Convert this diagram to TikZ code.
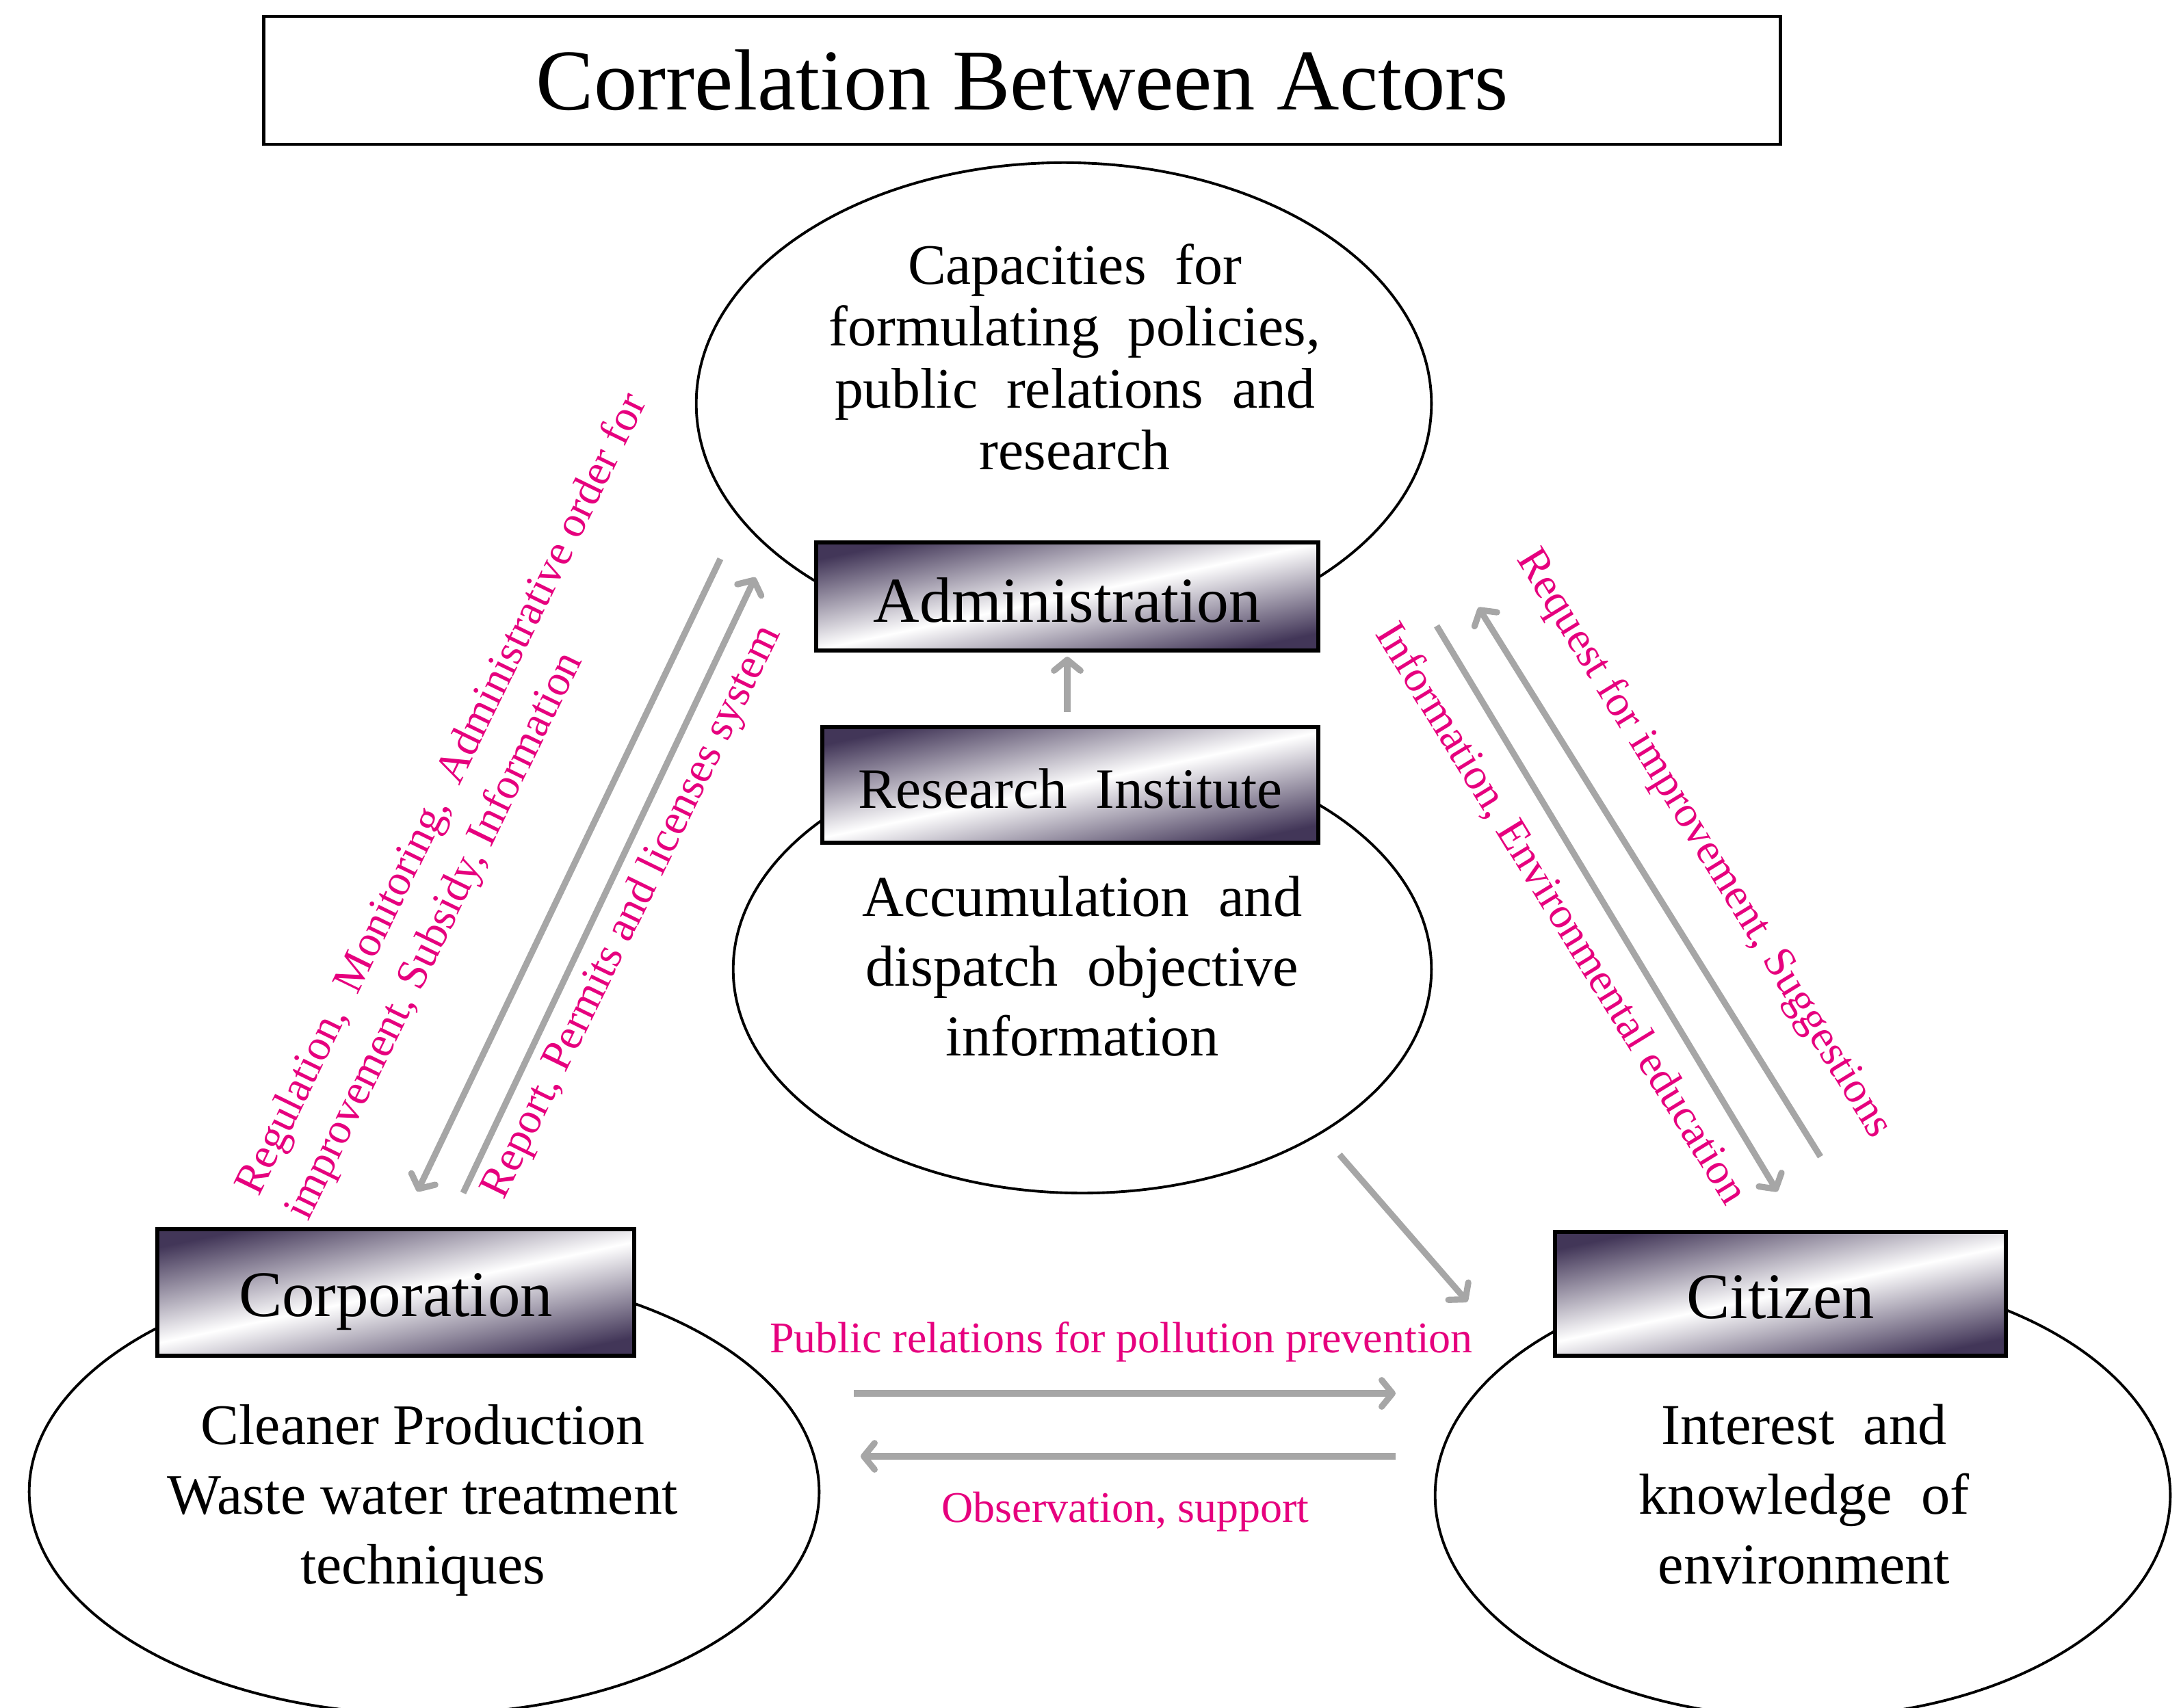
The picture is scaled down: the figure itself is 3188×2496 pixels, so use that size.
\documentclass[tikz,border=0pt]{standalone}
\usepackage{fontspec}
\setmainfont{Liberation Serif}
\usetikzlibrary{shapes.geometric,arrows.meta}
\definecolor{pinklab}{RGB}{230,0,126}
\definecolor{arrowgray}{RGB}{166,166,166}
\definecolor{boxdark}{RGB}{66,54,88}
\newcommand{\lowertext}[2]{\raisebox{-#1}[\height][\depth]{#2}}
\begin{document}
\begin{tikzpicture}[x=0.01cm,y=-0.01cm,
  actorell/.style={draw=black,line width=1.1pt,ellipse,inner sep=0pt,fill=white},
  actorbox/.style={draw=black,line width=1.6pt,inner sep=0pt,
     top color=boxdark,bottom color=boxdark,middle color=white,shading angle=12},
  elltext/.style={align=center,inner sep=0pt,font=\fontsize{23.8}{29}\selectfont},
  pinklabel/.style={text=pinklab,inner sep=0pt,font=\fontsize{18.2}{23}\selectfont},
  flow/.style={draw=arrowgray,line width=2.6pt,-{Straight Barb[length=4.5pt,width=11pt,round]}}
]
\useasboundingbox (0,0) rectangle (3188,2496);
\fill[white] (0,0) rectangle (3188,2496);

% title
\node[draw=black,line width=1.3pt,minimum width=22.16cm,minimum height=1.87cm,inner sep=0pt,
  font=\fontsize{36}{40}\selectfont] (title) at (1494,117.5) {Correlation Between Actors};

% ellipses
\node[actorell,minimum width=10.74cm,minimum height=7.04cm] (adminell) at (1555,590) {};
\node[actorell,minimum width=10.20cm,minimum height=6.54cm] (resell) at (1582,1417) {};
\node[actorell,minimum width=11.54cm,minimum height=6.50cm] (corpell) at (620,2181) {};
\node[actorell,minimum width=10.74cm,minimum height=6.50cm] (citell) at (2635,2186) {};

% ellipse texts
\node[elltext,font=\fontsize{23.8}{25.7}\selectfont] (admintext) at (1571,522)
  {Capacities~ for\\formulating~ policies,\\public~ relations~ and\\research};
\node[elltext,font=\fontsize{24}{29}\selectfont] (restext) at (1582,1413)
  {Accumulation~ and\\dispatch~ objective\\information};
\node[elltext] (corptext) at (618,2193)
  {Cleaner Production\\Waste water treatment\\techniques};
\node[elltext,font=\fontsize{24}{29}\selectfont] (cittext) at (2637,2185)
  {Interest~ and\\knowledge~ of\\environment};

% boxes
\node[actorbox,minimum width=7.34cm,minimum height=1.58cm,font=\fontsize{26.6}{30}\selectfont] (admin) at (1560,872) {\lowertext{1.5pt}{Administration}};
\node[actorbox,minimum width=7.25cm,minimum height=1.69cm,font=\fontsize{23.7}{28}\selectfont] (research) at (1564.5,1147.5) {\lowertext{1.5pt}{Research~ Institute}};
\node[actorbox,minimum width=6.97cm,minimum height=1.85cm,font=\fontsize{27}{30}\selectfont] (corp) at (578.5,1889.5) {\lowertext{3.8pt}{Corporation}};
\node[actorbox,minimum width=6.59cm,minimum height=1.81cm,font=\fontsize{27}{30}\selectfont] (citizen) at (2602.5,1891.5) {\lowertext{1.5pt}{Citizen}};

% arrow end points
\coordinate (a1s) at (1053,817);  \coordinate (a1e) at (610,1742);
\coordinate (a2s) at (677,1744);  \coordinate (a2e) at (1104,844);
\coordinate (a3s) at (2100,915);  \coordinate (a3e) at (2598,1742);
\coordinate (a4s) at (2661,1691); \coordinate (a4e) at (2161,888);
\coordinate (a5s) at (1560,1041); \coordinate (a5e) at (1560,960);
\coordinate (a6s) at (1958,1688); \coordinate (a6e) at (2145,1903);
\coordinate (a7s) at (1248,2037); \coordinate (a7e) at (2040,2037);
\coordinate (a8s) at (2040,2129); \coordinate (a8e) at (1258,2129);

\draw[flow] (a1s) -- (a1e);
\draw[flow] (a2s) -- (a2e);
\draw[flow] (a3s) -- (a3e);
\draw[flow] (a4s) -- (a4e);
\draw[flow] (a5s) -- (a5e);
\draw[flow] (a6s) -- (a6e);
\draw[flow] (a7s) -- (a7e);
\draw[flow] (a8s) -- (a8e);

% labels
\node[pinklabel,rotate=64,align=left] (reglab) at (684,1180)
  {Regulation,~ Monitoring,~ Administrative order for\\improvement, Subsidy, Information};
\node[pinklabel,rotate=64] (replab) at (925,1334) {Report, Permits and licenses system};
\node[pinklabel,rotate=-58.5] (reqlab) at (2490,1234) {Request for improvement, Suggestions};
\node[pinklabel,rotate=-58.5] (infolab) at (2281,1336) {Information, Environmental education};
\node[pinklabel] (publab) at (1639,1962) {Public relations for pollution prevention};
\node[pinklabel] (obslab) at (1645,2210) {Observation, support};
\end{tikzpicture}
\end{document}
